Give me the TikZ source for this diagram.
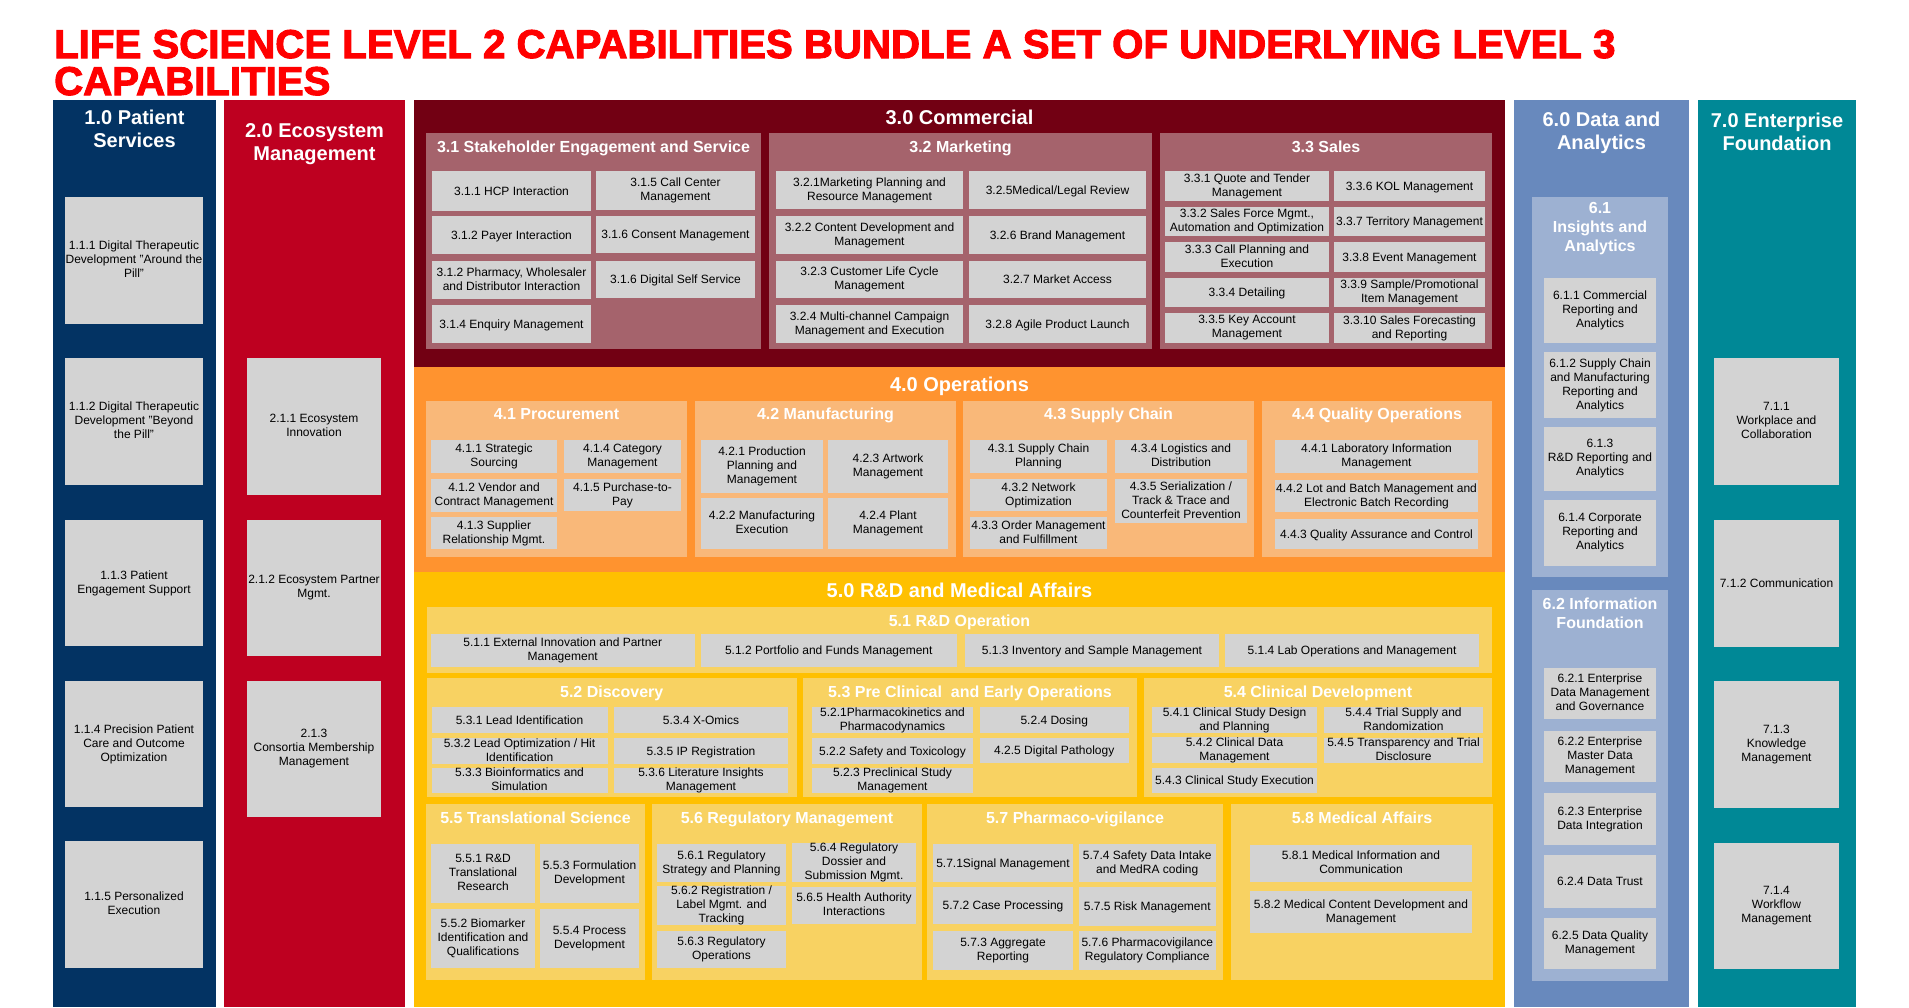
\documentclass[tikz,border=0pt]{standalone}
\usepackage{fontspec}
\setmainfont{Liberation Sans}
\newfontfamily\headfont[FakeBold=2.5]{Liberation Sans Bold}

\definecolor{titlered}{RGB}{255,0,0}
\definecolor{navy}{RGB}{3,51,99}
\definecolor{ecored}{RGB}{190,0,32}
\definecolor{maroon}{RGB}{114,0,19}
\definecolor{rose}{RGB}{165,99,108}
\definecolor{orangepanel}{RGB}{255,147,47}
\definecolor{peach}{RGB}{249,184,121}
\definecolor{amber}{RGB}{255,192,0}
\definecolor{sand}{RGB}{248,210,98}
\definecolor{steel}{RGB}{104,137,189}
\definecolor{mist}{RGB}{157,177,210}
\definecolor{tealpanel}{RGB}{0,136,150}
\definecolor{cellgrey}{RGB}{211,211,211}

% line-box struts with the ascent and descent of the text face
\newcommand{\ascstrut}{\rule{0pt}{10.9pt}}
\newcommand{\descstrut}{\rule[-2.5pt]{0pt}{2.5pt}}

\tikzset{
  box/.style={rectangle, inner sep=0pt, outer sep=0pt, draw=none},
  panel/.style={box, fill=#1},
  item/.style={box, fill=cellgrey, align=center, text=black,
    font=\fontsize{12}{14}\selectfont,
    execute at begin node=\ascstrut, execute at end node=\descstrut},
  lvlone/.style={inner sep=0pt, align=center, text=white,
    font=\bfseries\fontsize{20}{23}\selectfont},
  lvltwo/.style={inner sep=0pt, align=center, text=white,
    font=\bfseries\fontsize{16}{19}\selectfont},
  headline/.style={anchor=base west, inner sep=0pt, text=titlered,
    font=\headfont\fontsize{40.2}{37}\selectfont}
}

% \cell[style]{name}{x1}{y1}{x2}{y2}{text}: a box between two corners
\newcommand{\cell}[7][item]{%
  \pgfmathsetmacro{\cellw}{#5-#3}%
  \pgfmathsetmacro{\cellh}{#6-#4}%
  \node[#1, minimum width=\cellw pt, minimum height=\cellh pt]
    (#2) at ({(#3+#5)/2},{(#4+#6)/2}) {#7};%
}

\begin{document}
\begin{tikzpicture}[x=1pt,y=-1pt]
\useasboundingbox (0,0) rectangle (1909,1007);
\fill[white] (0,0) rectangle (1909,1007);

% heading
\node[headline] (head1) at (54,58) {LIFE SCIENCE LEVEL 2 CAPABILITIES BUNDLE A SET OF UNDERLYING LEVEL 3};
\node[headline] (head2) at (54,95) {CAPABILITIES};

% level 1 panels
\cell[panel=navy]{p1}{53}{100}{216}{1007}{}
\cell[panel=ecored]{p2}{224}{100}{405}{1007}{}
\cell[panel=maroon]{p3}{414}{100}{1505}{367}{}
\cell[panel=orangepanel]{p4}{414}{367}{1505}{572}{}
\cell[panel=amber]{p5}{414}{572}{1505}{1007}{}
\cell[panel=steel]{p6}{1514}{100}{1689}{1007}{}
\cell[panel=tealpanel]{p7}{1698}{100}{1856}{1007}{}

\node[lvlone] (t1) at (134.5,128.5) {1.0 Patient\\Services};
\node[lvlone] (t2) at (314.5,144.5) {2.0 Ecosystem\\Management};
\node[lvlone, anchor=base] (t3) at (959.5,124) {3.0 Commercial};
\node[lvlone, anchor=base] (t4) at (959.5,391) {4.0 Operations};
\node[lvlone, anchor=base] (t5) at (959.5,597) {5.0 R\&D and Medical Affairs};
\node[lvlone] (t6) at (1601.5,133) {6.0 Data and\\Analytics};
\node[lvlone] (t7) at (1777,132) {7.0 Enterprise\\Foundation};

% level 2 panels
\cell[panel=rose]{g31}{426}{133}{761}{349}{}
\cell[panel=rose]{g32}{769}{133}{1152}{349}{}
\cell[panel=rose]{g33}{1160}{133}{1492}{349}{}
\cell[panel=peach]{g41}{426}{401}{687}{557}{}
\cell[panel=peach]{g42}{695}{401}{956}{557}{}
\cell[panel=peach]{g43}{963}{401}{1254}{557}{}
\cell[panel=peach]{g44}{1262}{401}{1492}{557}{}
\cell[panel=sand]{g51}{427}{607}{1492}{673}{}
\cell[panel=sand]{g52}{427}{678}{796.5}{797}{}
\cell[panel=sand]{g53}{803}{678}{1137}{797}{}
\cell[panel=sand]{g54}{1144}{678}{1492}{797}{}
\cell[panel=sand]{g55}{426}{804}{645}{980}{}
\cell[panel=sand]{g56}{652}{804}{922}{980}{}
\cell[panel=sand]{g57}{927}{804}{1223}{980}{}
\cell[panel=sand]{g58}{1231}{804}{1493}{980}{}
\cell[panel=mist]{g61}{1532}{197}{1668}{577}{}
\cell[panel=mist]{g62}{1532}{590}{1668}{981}{}

\node[lvltwo, anchor=base] (s31) at (593.5,152) {3.1 Stakeholder Engagement and Service};
\node[lvltwo, anchor=base] (s32) at (960.5,152) {3.2 Marketing};
\node[lvltwo, anchor=base] (s33) at (1326,152) {3.3 Sales};
\node[lvltwo, anchor=base] (s41) at (556.5,419) {4.1 Procurement};
\node[lvltwo, anchor=base] (s42) at (825.5,419) {4.2 Manufacturing};
\node[lvltwo, anchor=base] (s43) at (1108.5,419) {4.3 Supply Chain};
\node[lvltwo, anchor=base] (s44) at (1377,419) {4.4 Quality Operations};
\node[lvltwo, anchor=base] (s51) at (959.5,626.5) {5.1 R\&D Operation};
\node[lvltwo, anchor=base] (s52) at (611.7,697) {5.2 Discovery};
\node[lvltwo, anchor=base] (s53) at (970,697) {5.3 Pre Clinical\ \ and Early Operations};
\node[lvltwo, anchor=base] (s54) at (1318,697) {5.4 Clinical Development};
\node[lvltwo, anchor=base] (s55) at (535.5,823) {5.5 Translational Science};
\node[lvltwo, anchor=base] (s56) at (787,823) {5.6 Regulatory Management};
\node[lvltwo, anchor=base] (s57) at (1075,823) {5.7 Pharmaco-vigilance};
\node[lvltwo, anchor=base] (s58) at (1362,823) {5.8 Medical Affairs};
\node[lvltwo] (s61) at (1600,229) {6.1\\Insights and\\Analytics};
\node[lvltwo] (s62) at (1600,613) {6.2 Information\\Foundation};

% 1.0 Patient Services
\cell{i111}{65}{197}{203}{324}{1.1.1 Digital Therapeutic\\Development "Around the\\Pill"}
\cell{i112}{65}{358}{203}{485}{1.1.2 Digital Therapeutic\\Development "Beyond\\the Pill"}
\cell{i113}{65}{520}{203}{646}{1.1.3 Patient\\Engagement Support}
\cell{i114}{65}{681}{203}{807}{1.1.4 Precision Patient\\Care and Outcome\\Optimization}
\cell{i115}{65}{841}{203}{968}{1.1.5 Personalized\\Execution}

% 2.0 Ecosystem Management
\cell{i211}{247}{358}{381}{495}{2.1.1 Ecosystem\\Innovation}
\cell{i212}{247}{520}{381}{656}{2.1.2 Ecosystem Partner\\Mgmt.}
\cell{i213}{247}{681}{381}{817}{2.1.3\\Consortia Membership\\Management}

% 3.1 Stakeholder Engagement and Service
\cell{i311}{432}{171}{591}{211}{3.1.1 HCP Interaction}
\cell{i312a}{432}{216}{591}{254}{3.1.2 Payer Interaction}
\cell{i312b}{432}{261}{591}{299}{3.1.2 Pharmacy, Wholesaler\\and Distributor Interaction}
\cell{i314}{432}{305}{591}{343}{3.1.4 Enquiry Management}
\cell{i315}{596}{171}{755}{210}{3.1.5 Call Center\\Management}
\cell{i316a}{596}{216}{755}{253}{3.1.6 Consent Management}
\cell{i316b}{596}{261}{755}{298}{3.1.6 Digital Self Service}

% 3.2 Marketing
\cell{i321}{776}{171}{963}{209}{3.2.1Marketing Planning and\\Resource Management}
\cell{i322}{776}{216}{963}{254}{3.2.2 Content Development and\\Management}
\cell{i323}{776}{261}{963}{298}{3.2.3 Customer Life Cycle\\Management}
\cell{i324}{776}{305}{963}{343}{3.2.4 Multi-channel Campaign\\Management and Execution}
\cell{i325}{969}{171}{1146}{209}{3.2.5Medical/Legal Review}
\cell{i326}{969}{216}{1146}{254}{3.2.6 Brand Management}
\cell{i327}{969}{261}{1146}{298}{3.2.7 Market Access}
\cell{i328}{969}{305}{1146}{343}{3.2.8 Agile Product Launch}

% 3.3 Sales
\cell{i331}{1165}{171}{1329}{201}{3.3.1 Quote and Tender\\Management}
\cell{i332}{1165}{207}{1329}{236}{3.3.2 Sales Force Mgmt.,\\Automation and Optimization}
\cell{i333}{1165}{242}{1329}{272}{3.3.3 Call Planning and\\Execution}
\cell{i334}{1165}{278}{1329}{307}{3.3.4 Detailing}
\cell{i335}{1165}{313}{1329}{343}{3.3.5 Key Account\\Management}
\cell{i336}{1334}{171}{1485}{201}{3.3.6 KOL Management}
\cell{i337}{1334}{207}{1485}{236}{3.3.7 Territory Management}
\cell{i338}{1334}{242}{1485}{272}{3.3.8 Event Management}
\cell{i339}{1334}{278}{1485}{307}{3.3.9 Sample/Promotional\\Item Management}
\cell{i3310}{1334}{313}{1485}{343}{3.3.10 Sales Forecasting\\and Reporting}

% 4.1 Procurement
\cell{i411}{431}{440}{557}{473}{4.1.1 Strategic\\Sourcing}
\cell{i412}{431}{479}{557}{512}{4.1.2 Vendor and\\Contract Management}
\cell{i413}{431}{517}{557}{549}{4.1.3 Supplier\\Relationship Mgmt.}
\cell{i414}{564}{440}{681}{473}{4.1.4 Category\\Management}
\cell{i415}{564}{479}{681}{511}{4.1.5 Purchase-to-\\Pay}

% 4.2 Manufacturing
\cell{i421}{701}{440}{823}{493}{4.2.1 Production\\Planning and\\Management}
\cell{i422}{701}{498}{823}{549}{4.2.2 Manufacturing\\Execution}
\cell{i423}{828}{440}{948}{493}{4.2.3 Artwork\\Management}
\cell{i424}{828}{498}{948}{549}{4.2.4 Plant\\Management}

% 4.3 Supply Chain
\cell{i431}{970}{440}{1107}{473}{4.3.1 Supply Chain\\Planning}
\cell{i432}{970}{479}{1107}{511}{4.3.2 Network\\Optimization}
\cell{i433}{970}{517}{1107}{549}{4.3.3 Order Management\\and Fulfillment}
\cell{i434}{1115}{440}{1247}{473}{4.3.4 Logistics and\\Distribution}
\cell{i435}{1115}{479}{1247}{523}{4.3.5 Serialization /\\Track \& Trace and\\Counterfeit Prevention}

% 4.4 Quality Operations
\cell{i441}{1275}{440}{1478}{473}{4.4.1 Laboratory Information\\Management}
\cell{i442}{1275}{480}{1478}{512}{4.4.2 Lot and Batch Management and\\Electronic Batch Recording}
\cell{i443}{1275}{519}{1478}{549}{4.4.3 Quality Assurance and Control}

% 5.1 R&D Operation
\cell{i511}{430.5}{634}{695}{667}{5.1.1 External Innovation and Partner\\Management}
\cell{i512}{700.5}{634}{957}{667}{5.1.2 Portfolio and Funds Management}
\cell{i513}{965}{634}{1219}{667}{5.1.3 Inventory and Sample Management}
\cell{i514}{1225}{634}{1479}{667}{5.1.4 Lab Operations and Management}

% 5.2 Discovery
\cell{i531}{431.5}{707}{607.5}{733}{5.3.1 Lead Identification}
\cell{i532}{431.5}{738}{607.5}{764}{5.3.2 Lead Optimization / Hit\\Identification}
\cell{i533}{431.5}{768}{607.5}{793}{5.3.3 Bioinformatics and\\Simulation}
\cell{i534}{614}{707}{788}{733}{5.3.4 X-Omics}
\cell{i535}{614}{738}{788}{764}{5.3.5 IP Registration}
\cell{i536}{614}{768}{788}{793}{5.3.6 Literature Insights\\Management}

% 5.3 Pre Clinical and Early Operations
\cell{i521}{812}{707}{973}{733}{5.2.1Pharmacokinetics and\\Pharmacodynamics}
\cell{i522}{812}{738}{973}{764}{5.2.2 Safety and Toxicology}
\cell{i523}{812}{768}{973}{793}{5.2.3 Preclinical Study\\Management}
\cell{i524}{980}{707}{1128.5}{733}{5.2.4 Dosing}
\cell{i425}{980}{738}{1128.5}{763}{4.2.5 Digital Pathology}

% 5.4 Clinical Development
\cell{i541}{1152}{707}{1317}{733}{5.4.1 Clinical Study Design\\and Planning}
\cell{i542}{1152}{737}{1317}{763}{5.4.2 Clinical Data\\Management}
\cell{i543}{1152}{768}{1317}{793}{5.4.3 Clinical Study Execution}
\cell{i544}{1324}{707}{1483}{733}{5.4.4 Trial Supply and\\Randomization}
\cell{i545}{1324}{738}{1483}{763}{5.4.5 Transparency and Trial\\Disclosure}

% 5.5 Translational Science
\cell{i551}{431}{844}{535}{903}{5.5.1 R\&D\\Translational\\Research}
\cell{i552}{431}{909}{535}{968}{5.5.2 Biomarker\\Identification and\\Qualifications}
\cell{i553}{540}{844}{639}{903}{5.5.3 Formulation\\Development}
\cell{i554}{540}{909}{639}{968}{5.5.4 Process\\Development}

% 5.6 Regulatory Management
\cell{i561}{657}{844}{786}{882}{5.6.1 Regulatory\\Strategy and Planning}
\cell{i562}{657}{887}{786}{924}{5.6.2 Registration /\\Label Mgmt. and\\Tracking}
\cell{i563}{657}{931}{786}{968}{5.6.3 Regulatory\\Operations}
\cell{i564}{792}{844}{916}{881}{5.6.4 Regulatory\\Dossier and\\Submission Mgmt.}
\cell{i565}{792}{887}{916}{924}{5.6.5 Health Authority\\Interactions}

% 5.7 Pharmaco-vigilance
\cell{i571}{933}{844}{1073}{882}{5.7.1Signal Management}
\cell{i572}{933}{887}{1073}{924}{5.7.2 Case Processing}
\cell{i573}{933}{931}{1073}{970}{5.7.3 Aggregate\\Reporting}
\cell{i574}{1078.5}{844}{1216}{882}{5.7.4 Safety Data Intake\\and MedRA coding}
\cell{i575}{1078.5}{887}{1216}{926}{5.7.5 Risk Management}
\cell{i576}{1078.5}{931}{1216}{970}{5.7.6 Pharmacovigilance\\Regulatory Compliance}

% 5.8 Medical Affairs
\cell{i581}{1250}{845}{1472}{882}{5.8.1 Medical Information and\\Communication}
\cell{i582}{1250}{891}{1472}{933}{5.8.2 Medical Content Development and\\Management}

% 6.1 Insights and Analytics
\cell{i611}{1544}{278}{1656}{343}{6.1.1 Commercial\\Reporting and\\Analytics}
\cell{i612}{1544}{352}{1656}{418}{6.1.2 Supply Chain\\and Manufacturing\\Reporting and\\Analytics}
\cell{i613}{1544}{427}{1656}{491}{6.1.3\\R\&D Reporting and\\Analytics}
\cell{i614}{1544}{500}{1656}{566}{6.1.4 Corporate\\Reporting and\\Analytics}

% 6.2 Information Foundation
\cell{i621}{1544}{668}{1656}{719}{6.2.1 Enterprise\\Data Management\\and Governance}
\cell{i622}{1544}{731}{1656}{782}{6.2.2 Enterprise\\Master Data\\Management}
\cell{i623}{1544}{793}{1656}{845}{6.2.3 Enterprise\\Data Integration}
\cell{i624}{1544}{855}{1656}{908}{6.2.4 Data Trust}
\cell{i625}{1544}{918}{1656}{969}{6.2.5 Data Quality\\Management}

% 7.0 Enterprise Foundation
\cell{i711}{1714}{358}{1839}{485}{7.1.1\\Workplace and\\Collaboration}
\cell{i712}{1714}{520}{1839}{647}{7.1.2 Communication}
\cell{i713}{1714}{681}{1839}{808}{7.1.3\\Knowledge\\Management}
\cell{i714}{1714}{843}{1839}{969}{7.1.4\\Workflow\\Management}
\end{tikzpicture}
\end{document}
